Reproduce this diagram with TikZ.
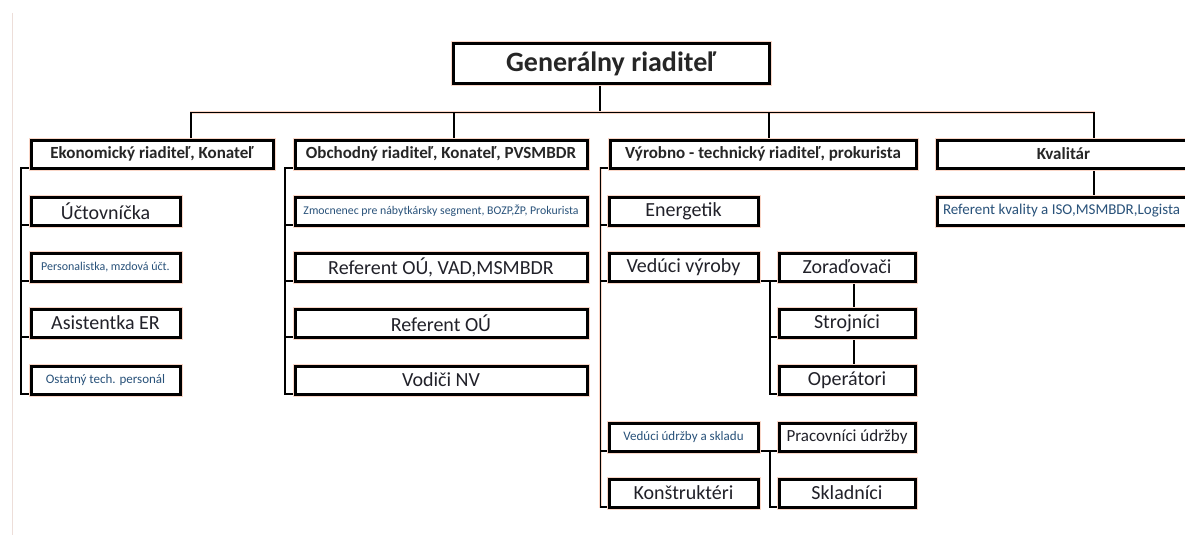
\documentclass[tikz,border=0pt]{standalone}
\usepackage{fontspec}
\setmainfont{Carlito}
\usetikzlibrary{backgrounds}
\definecolor{maintext}{rgb}{0.13,0.13,0.16}
\definecolor{smalltext}{rgb}{0.16,0.32,0.48}
\definecolor{halo}{rgb}{0.98,0.84,0.78}
\definecolor{pageline}{rgb}{0.93,0.87,0.85}
\begin{document}
\begin{tikzpicture}[x=1pt,y=-1pt,
  box/.style={draw=black, line width=3pt, fill=white, inner sep=0pt, outer sep=0pt,
    minimum height=28pt, text=maintext, font=\fontsize{20}{24}\selectfont,
    preaction={draw=halo, line width=5pt}},
  head/.style={box, font=\bfseries\fontsize{17}{20}\selectfont, text=black!85},
  small/.style={font=\fontsize{#1}{#1}\selectfont, text=smalltext},
  conn/.style={line width=1.1pt, draw=black, preaction={draw=halo, line width=2.6pt}}]
\clip (0,0) rectangle (1185,535);

% top
\node[box, minimum width=316pt, minimum height=39pt, font=\bfseries\fontsize{28}{30}\selectfont, text=black!85] (gen) at (611,63.5) {Generálny riaditeľ};

% level 2
\node[head, minimum width=242pt] (eko) at (152,154) {Ekonomický riaditeľ, Konateľ};
\node[head, minimum width=292pt] (obch) at (441,154) {Obchodný riaditeľ, Konateľ, PVSMBDR};
\node[head, minimum width=306pt] (vyr) at (763,154) {Výrobno - technický riaditeľ, prokurista};
\node[head, minimum width=253pt] (kval) at (1063.5,154) {Kvalitár};

% economic
\node[box, minimum width=149pt] (uct) at (105.5,211) {Účtovníčka};
\node[box, minimum width=149pt, small=12] (pers) at (105.5,267) {Personalistka, mzdová účt.};
\node[box, minimum width=149pt] (asis) at (105.5,323) {Asistentka ER};
\node[box, minimum width=149pt, small=13] (osta) at (105.5,380) {Ostatný tech. personál};

% commercial
\node[box, minimum width=292pt, small=11.8] (zmoc) at (441,211) {Zmocnenec pre nábytkársky segment, BOZP,ŽP, Prokurista};
\node[box, minimum width=292pt] (refvad) at (441,267) {Referent OÚ, VAD,MSMBDR};
\node[box, minimum width=292pt] (refou) at (441,323) {Referent OÚ};
\node[box, minimum width=292pt] (vodici) at (441,380) {Vodiči NV};

% production
\node[box, minimum width=149pt] (ener) at (683.5,211) {Energetik};
\node[box, minimum width=149pt] (vvyr) at (683.5,267) {Vedúci výroby};
\node[box, minimum width=136pt] (zor) at (847,267) {Zoraďovači};
\node[box, minimum width=136pt] (stroj) at (847,323) {Strojníci};
\node[box, minimum width=136pt] (oper) at (847,380) {Operátori};
\node[box, minimum width=149pt, small=13] (vudr) at (683.5,437) {Vedúci údržby a skladu};
\node[box, minimum width=136pt, font=\fontsize{17}{20}\selectfont] (prac) at (847,437) {Pracovníci údržby};
\node[box, minimum width=149pt] (konst) at (683.5,493) {Konštruktéri};
\node[box, minimum width=136pt] (sklad) at (847,493) {Skladníci};

% quality
\node[box, minimum width=253pt, small=15] (refk) at (1063.5,211) {\makebox[241pt][l]{Referent kvality a ISO,MSMBDR,Logista}};

\begin{scope}[on background layer]
\fill[white] (0,0) rectangle (1185,535);
\draw[pageline, line width=1pt] (12,13) -- (12,535);
\coordinate (bus) at (600,112.5);
\draw[conn] (gen.south -| bus) -- (bus);
\draw[conn] ([xshift=39pt]eko.north) |- (bus) -| ([xshift=30.5pt]kval.north);
\draw[conn] ([xshift=13pt]obch.north) -- ([xshift=13pt]obch.north |- bus);
\draw[conn] ([xshift=6pt]vyr.north) -- ([xshift=6pt]vyr.north |- bus);

\draw[conn] (eko.south west) -- ++(-10pt,0) |- (osta.south west);
\foreach \n in {uct,pers,asis} \draw[conn] (\n.south west) -- ++(-10pt,0);

\draw[conn] (obch.south west) -- ++(-10pt,0) |- (vodici.south west);
\foreach \n in {zmoc,refvad,refou} \draw[conn] (\n.south west) -- ++(-10pt,0);

\draw[conn] (vyr.south west) -- ++(-9.5pt,0) |- (konst.south west);
\foreach \n in {ener,vvyr,vudr} \draw[conn] (\n.south west) -- ++(-8.5pt,0);
\draw[conn] (vvyr.south east) -- (zor.south west);
\draw[conn] ([xshift=-9pt]zor.south west) |- (oper.south west);
\draw[conn] ([xshift=-9pt]stroj.south west) -- (stroj.south west);
\draw[conn] ([xshift=7pt]zor.south) -- ([xshift=7pt]stroj.north);
\draw[conn] ([xshift=7pt]stroj.south) -- ([xshift=7pt]oper.north);
\draw[conn] (vudr.south east) -- (prac.south west);
\draw[conn] ([xshift=-9pt]prac.south west) |- (sklad.south west);

\draw[conn] ([xshift=30.5pt]kval.south) -- ([xshift=30.5pt]refk.north);
\end{scope}
\end{tikzpicture}
\end{document}
